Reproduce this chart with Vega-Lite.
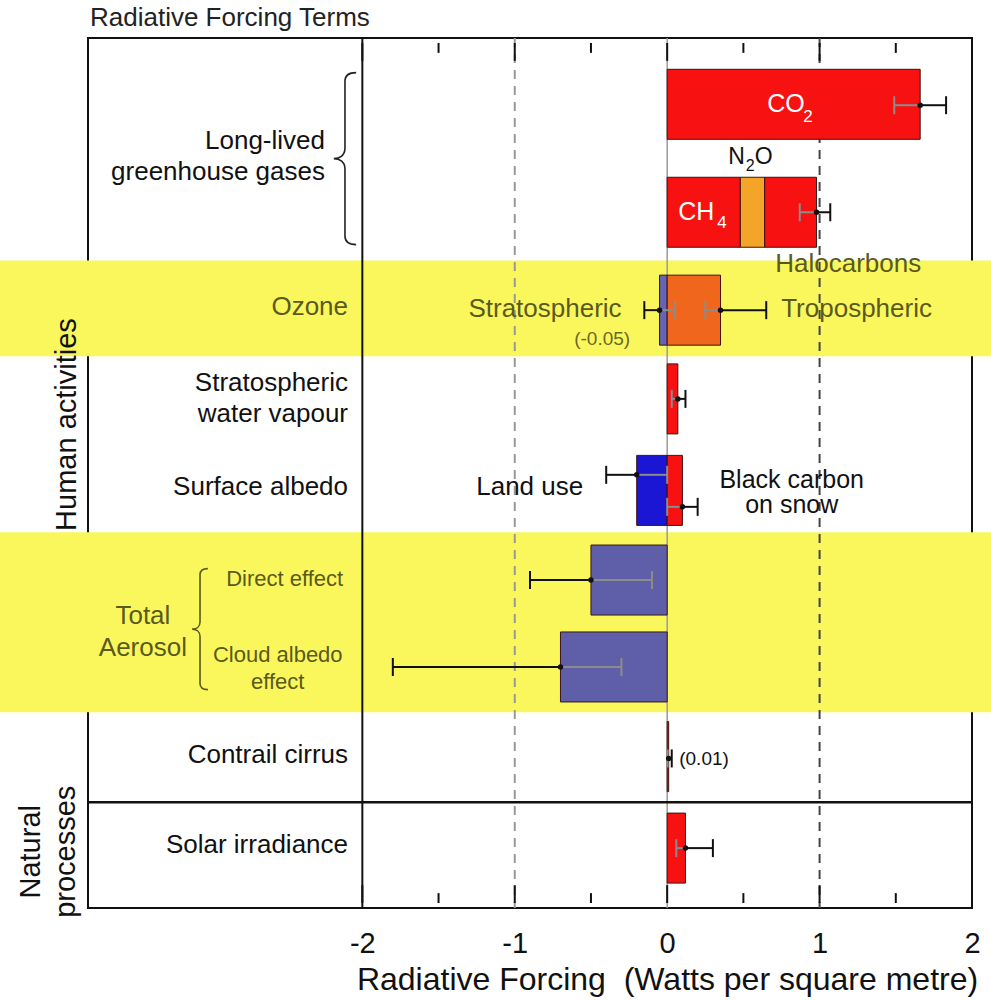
{
  "$schema": "https://vega.github.io/schema/vega-lite/v6.json",
  "width": 884,
  "height": 870,
  "autosize": {"type": "none"},
  "padding": {"left": 88, "top": 38, "right": 19, "bottom": 92},
  "background": "white",
  "config": {"font": "Liberation Sans", "view": {"stroke": "#111", "strokeWidth": 2}},
  "title": {"text": "Radiative Forcing Terms", "anchor": "start", "frame": "group", "fontSize": 26, "fontWeight": "normal", "font": "Liberation Sans", "color": "#222", "offset": -15, "baseline": "alphabetic", "dx": 2},
  "resolve": {"axis": {"x": "independent"}},
  "datasets": {
    "bands": [
      {"zone": "Ozone", "y0": 1.677, "y1": 2.725},
      {"zone": "Total Aerosol", "y0": 4.648, "y1": 6.615}
    ],
    "refs": [
      {"x": -2, "kind": "solid"},
      {"x": -1, "kind": "dash light"},
      {"x": 0, "kind": "zero"},
      {"x": 1, "kind": "dash dark"}
    ],
    "dividers": [{"y": 7.6}],
    "bars": [
      {"term": "CO2", "y": -0.03, "x0": 0, "x1": 1.66, "type": "warming"},
      {"term": "CH4", "y": 1.15, "x0": 0, "x1": 0.48, "type": "warming"},
      {"term": "N2O", "y": 1.15, "x0": 0.48, "x1": 0.64, "type": "N2O"},
      {"term": "Halocarbons", "y": 1.15, "x0": 0.64, "x1": 0.98, "type": "warming"},
      {"term": "Stratospheric ozone", "y": 2.22, "x0": -0.05, "x1": 0, "type": "ozone strat"},
      {"term": "Tropospheric ozone", "y": 2.22, "x0": 0, "x1": 0.35, "type": "ozone trop"},
      {"term": "Stratospheric water vapour", "y": 3.19, "x0": 0, "x1": 0.07, "type": "warming"},
      {"term": "Land use", "y": 4.19, "x0": -0.2, "x1": 0, "type": "albedo"},
      {"term": "Black carbon on snow", "y": 4.19, "x0": 0, "x1": 0.1, "type": "warming"},
      {"term": "Direct effect", "y": 5.17, "x0": -0.5, "x1": 0, "type": "aerosol"},
      {"term": "Cloud albedo effect", "y": 6.12, "x0": -0.7, "x1": 0, "type": "aerosol"},
      {"term": "Contrail cirrus", "y": 7.1, "x0": 0, "x1": 0.01, "type": "warming"},
      {"term": "Solar irradiance", "y": 8.1, "x0": 0, "x1": 0.12, "type": "warming"}
    ],
    "errs": [
      {"term": "CO2", "y": -0.02, "v": 1.66, "inner": 1.49, "outer": 1.83},
      {"term": "Long-lived gases", "y": 1.15, "v": 0.98, "inner": 0.87, "outer": 1.07},
      {"term": "Stratospheric ozone", "y": 2.22, "v": -0.05, "inner": 0.05, "outer": -0.15},
      {"term": "Tropospheric ozone", "y": 2.22, "v": 0.35, "inner": 0.25, "outer": 0.65},
      {"term": "Stratospheric water vapour", "y": 3.19, "v": 0.07, "inner": 0.03, "outer": 0.12},
      {"term": "Land use", "y": 4.02, "v": -0.2, "inner": 0.0, "outer": -0.4},
      {"term": "Black carbon on snow", "y": 4.37, "v": 0.1, "inner": 0.0, "outer": 0.2},
      {"term": "Direct effect", "y": 5.17, "v": -0.5, "inner": -0.1, "outer": -0.9},
      {"term": "Cloud albedo effect", "y": 6.12, "v": -0.7, "inner": -0.3, "outer": -1.8},
      {"term": "Contrail cirrus", "y": 7.12, "v": 0.01, "inner": 0.003, "outer": 0.03},
      {"term": "Solar irradiance", "y": 8.1, "v": 0.12, "inner": 0.06, "outer": 0.3}
    ],
    "ticks": [
      {"x": -2, "kind": "major"}, {"x": -1.5, "kind": "minor"}, {"x": -1, "kind": "major"}, {"x": -0.5, "kind": "minor"},
      {"x": 0, "kind": "major"}, {"x": 0.5, "kind": "minor"}, {"x": 1, "kind": "major"}, {"x": 1.5, "kind": "minor"}, {"x": 2, "kind": "major"}
    ],
    "braces": [
      {"group": "Long-lived greenhouse gases", "x": -2.114, "y": 0.564},
      {"group": "Total Aerosol", "x": -3.065, "y": 5.707}
    ],
    "notes": [
      {"text": "Long-lived\ngreenhouse gases", "x": -2.245, "y": 0.37, "kind": "label"},
      {"text": "Stratospheric\nwater vapour", "x": -2.094, "y": 3.013, "kind": "label"},
      {"text": "Surface albedo", "x": -2.094, "y": 4.15, "kind": "label"},
      {"text": "Contrail cirrus", "x": -2.094, "y": 7.08, "kind": "label"},
      {"text": "Solar irradiance", "x": -2.094, "y": 8.07, "kind": "label"},
      {"text": "Land use", "x": -0.551, "y": 4.15, "kind": "label"},
      {"text": "Ozone", "x": -2.094, "y": 2.19, "kind": "shaded right"},
      {"text": "Stratospheric", "x": -0.299, "y": 2.21, "kind": "shaded right"},
      {"text": "Tropospheric", "x": 0.748, "y": 2.21, "kind": "shaded left"},
      {"text": "Halocarbons", "x": 1.188, "y": 1.715, "kind": "shaded center"},
      {"text": "Total\nAerosol", "x": -3.44, "y": 5.56, "kind": "shaded center"},
      {"text": "Direct effect", "x": -2.51, "y": 5.156, "kind": "shaded small"},
      {"text": "Cloud albedo\neffect", "x": -2.555, "y": 5.988, "kind": "shaded small"},
      {"text": "(-0.05)", "x": -0.243, "y": 2.536, "kind": "shaded value"},
      {"text": "Black carbon\non snow", "x": 0.817, "y": 4.076, "kind": "center"},
      {"text": "(0.01)", "x": 0.079, "y": 7.13, "kind": "value"},
      {"text": "CO", "x": 0.656, "y": -0.035, "kind": "white"},
      {"text": "2", "x": 0.892, "y": 0.11, "kind": "white sub"},
      {"text": "CH", "x": 0.072, "y": 1.148, "kind": "white"},
      {"text": "4", "x": 0.329, "y": 1.27, "kind": "white sub"},
      {"text": "N", "x": 0.4, "y": 0.55, "kind": "formula"},
      {"text": "2", "x": 0.515, "y": 0.645, "kind": "formula sub"},
      {"text": "O", "x": 0.575, "y": 0.55, "kind": "formula"},
      {"text": "Human activities", "x": -3.938, "y": 3.47, "kind": "side"},
      {"text": "Natural\nprocesses", "x": -4.171, "y": 8.14, "kind": "side"}
    ]
  },
  "layer": [
    {
      "data": {"name": "bands"},
      "mark": {"type": "rect", "color": "#faf75c", "opacity": 1},
      "encoding": {
        "x": {"datum": -4.45, "type": "quantitative", "scale": {"domain": [-3.8, 2], "nice": false, "zero": false}, "axis": null},
        "x2": {"datum": 2.2},
        "y": {"field": "y0", "type": "quantitative", "scale": {"domain": [-0.7, 8.7], "reverse": true, "nice": false, "zero": false}, "axis": null},
        "y2": {"field": "y1"}
      }
    },
    {
      "data": {"name": "refs"},
      "transform": [{"filter": "datum.kind === 'solid'"}],
      "mark": {"type": "rule", "color": "#111", "strokeWidth": 2},
      "encoding": {"x": {"field": "x", "type": "quantitative", "scale": {"domain": [-3.8, 2], "nice": false, "zero": false}, "axis": null}}
    },
    {
      "data": {"name": "refs"},
      "transform": [{"filter": "datum.kind === 'zero'"}],
      "mark": {"type": "rule", "color": "#9a9a9a", "strokeWidth": 1.5},
      "encoding": {"x": {"field": "x", "type": "quantitative", "scale": {"domain": [-3.8, 2], "nice": false, "zero": false}, "axis": null}}
    },
    {
      "data": {"name": "refs"},
      "transform": [{"filter": "datum.kind === 'dash light'"}],
      "mark": {"type": "rule", "color": "#999999", "strokeWidth": 2, "strokeDash": [9, 7]},
      "encoding": {"x": {"field": "x", "type": "quantitative", "scale": {"domain": [-3.8, 2], "nice": false, "zero": false}, "axis": null}}
    },
    {
      "data": {"name": "refs"},
      "transform": [{"filter": "datum.kind === 'dash dark'"}],
      "mark": {"type": "rule", "color": "#444444", "strokeWidth": 2, "strokeDash": [9, 7]},
      "encoding": {"x": {"field": "x", "type": "quantitative", "scale": {"domain": [-3.8, 2], "nice": false, "zero": false}, "axis": null}}
    },
    {
      "data": {"name": "dividers"},
      "mark": {"type": "rule", "color": "#111", "strokeWidth": 2.5},
      "encoding": {"y": {"field": "y", "type": "quantitative", "scale": {"domain": [-0.7, 8.7], "reverse": true, "nice": false, "zero": false}, "axis": null}}
    },
    {
      "data": {"name": "bars"},
      "mark": {"type": "bar", "orient": "horizontal", "height": 70, "stroke": "#3a1414", "strokeWidth": 1, "opacity": 1},
      "encoding": {
        "x": {"field": "x0", "type": "quantitative", "scale": {"domain": [-3.8, 2], "nice": false, "zero": false},
          "axis": {"orient": "bottom", "values": [-2, -1, 0, 1, 2], "ticks": false, "domain": false, "grid": false, "labelFontSize": 29, "labelColor": "#111", "labelBaseline": "alphabetic", "labelPadding": 44, "labelFont": "Liberation Sans", "labelFlush": false, "labelOverlap": false, "labelBound": false,
            "labelExpr": "datum.value < 0 ? '-' + abs(datum.value) : '' + datum.value",
            "title": "Radiative Forcing \u00a0(Watts per square metre)", "titleFontSize": 32, "titleFontWeight": "normal", "titleColor": "#111", "titleFont": "Liberation Sans", "titleX": 579, "titleY": 81, "titleAlign": "center", "titleBaseline": "alphabetic"}},
        "x2": {"field": "x1"},
        "y": {"field": "y", "type": "quantitative", "scale": {"domain": [-0.7, 8.7], "reverse": true, "nice": false, "zero": false}, "axis": null},
        "color": {"field": "type", "type": "nominal", "legend": null,
          "scale": {"domain": ["warming", "N2O", "ozone strat", "ozone trop", "albedo", "aerosol"], "range": ["#f71111", "#f5a42a", "#6664b4", "#f0661c", "#1b15d4", "#5f5ea8"]}}
      }
    },
    {
      "data": {"name": "errs"},
      "mark": {"type": "rule", "color": "#8c8c8c", "strokeWidth": 2},
      "encoding": {
        "x": {"field": "inner", "type": "quantitative", "scale": {"domain": [-3.8, 2], "nice": false, "zero": false}, "axis": null},
        "x2": {"field": "v"},
        "y": {"field": "y", "type": "quantitative", "scale": {"domain": [-0.7, 8.7], "reverse": true, "nice": false, "zero": false}, "axis": null}
      }
    },
    {
      "data": {"name": "errs"},
      "mark": {"type": "rule", "color": "#111", "strokeWidth": 2},
      "encoding": {
        "x": {"field": "v", "type": "quantitative", "scale": {"domain": [-3.8, 2], "nice": false, "zero": false}, "axis": null},
        "x2": {"field": "outer"},
        "y": {"field": "y", "type": "quantitative", "scale": {"domain": [-0.7, 8.7], "reverse": true, "nice": false, "zero": false}, "axis": null}
      }
    },
    {
      "data": {"name": "errs"},
      "mark": {"type": "tick", "orient": "vertical", "size": 18, "thickness": 2, "color": "#8c8c8c", "opacity": 1},
      "encoding": {
        "x": {"field": "inner", "type": "quantitative", "scale": {"domain": [-3.8, 2], "nice": false, "zero": false}, "axis": null},
        "y": {"field": "y", "type": "quantitative", "scale": {"domain": [-0.7, 8.7], "reverse": true, "nice": false, "zero": false}, "axis": null}
      }
    },
    {
      "data": {"name": "errs"},
      "mark": {"type": "tick", "orient": "vertical", "size": 18, "thickness": 2, "color": "#111", "opacity": 1},
      "encoding": {
        "x": {"field": "outer", "type": "quantitative", "scale": {"domain": [-3.8, 2], "nice": false, "zero": false}, "axis": null},
        "y": {"field": "y", "type": "quantitative", "scale": {"domain": [-0.7, 8.7], "reverse": true, "nice": false, "zero": false}, "axis": null}
      }
    },
    {
      "data": {"name": "errs"},
      "mark": {"type": "circle", "size": 30, "color": "#111", "opacity": 1},
      "encoding": {
        "x": {"field": "v", "type": "quantitative", "scale": {"domain": [-3.8, 2], "nice": false, "zero": false}, "axis": null},
        "y": {"field": "y", "type": "quantitative", "scale": {"domain": [-0.7, 8.7], "reverse": true, "nice": false, "zero": false}, "axis": null}
      }
    },
    {
      "data": {"name": "ticks"},
      "transform": [{"filter": "datum.kind === 'major'"}],
      "mark": {"type": "rule", "color": "#111", "strokeWidth": 2},
      "encoding": {
        "x": {"field": "x", "type": "quantitative", "scale": {"domain": [-3.8, 2], "nice": false, "zero": false}, "axis": null},
        "y": {"datum": -0.7, "type": "quantitative", "scale": {"domain": [-0.7, 8.7], "reverse": true, "nice": false, "zero": false}, "axis": null},
        "y2": {"datum": -0.505}
      }
    },
    {
      "data": {"name": "ticks"},
      "transform": [{"filter": "datum.kind === 'major'"}],
      "mark": {"type": "rule", "color": "#111", "strokeWidth": 2},
      "encoding": {
        "x": {"field": "x", "type": "quantitative", "scale": {"domain": [-3.8, 2], "nice": false, "zero": false}, "axis": null},
        "y": {"datum": 8.7, "type": "quantitative", "scale": {"domain": [-0.7, 8.7], "reverse": true, "nice": false, "zero": false}, "axis": null},
        "y2": {"datum": 8.505}
      }
    },
    {
      "data": {"name": "ticks"},
      "transform": [{"filter": "datum.kind === 'minor'"}],
      "mark": {"type": "rule", "color": "#111", "strokeWidth": 2},
      "encoding": {
        "x": {"field": "x", "type": "quantitative", "scale": {"domain": [-3.8, 2], "nice": false, "zero": false}, "axis": null},
        "y": {"datum": -0.7, "type": "quantitative", "scale": {"domain": [-0.7, 8.7], "reverse": true, "nice": false, "zero": false}, "axis": null},
        "y2": {"datum": -0.592}
      }
    },
    {
      "data": {"name": "ticks"},
      "transform": [{"filter": "datum.kind === 'minor'"}],
      "mark": {"type": "rule", "color": "#111", "strokeWidth": 2},
      "encoding": {
        "x": {"field": "x", "type": "quantitative", "scale": {"domain": [-3.8, 2], "nice": false, "zero": false}, "axis": null},
        "y": {"datum": 8.7, "type": "quantitative", "scale": {"domain": [-0.7, 8.7], "reverse": true, "nice": false, "zero": false}, "axis": null},
        "y2": {"datum": 8.592}
      }
    },
    {
      "data": {"name": "braces"},
      "transform": [{"filter": "datum.group === 'Long-lived greenhouse gases'"}],
      "mark": {"type": "point", "shape": "M0.13,-1 C0.04,-1 0,-0.97 0,-0.9 L0,-0.12 C0,-0.04 -0.06,0 -0.13,0 C-0.06,0 0,0.04 0,0.12 L0,0.9 C0,0.97 0.04,1 0.13,1", "size": 29584, "filled": false, "stroke": "#222", "strokeWidth": 1.6, "opacity": 1},
      "encoding": {
        "x": {"field": "x", "type": "quantitative", "scale": {"domain": [-3.8, 2], "nice": false, "zero": false}, "axis": null},
        "y": {"field": "y", "type": "quantitative", "scale": {"domain": [-0.7, 8.7], "reverse": true, "nice": false, "zero": false}, "axis": null}
      }
    },
    {
      "data": {"name": "braces"},
      "transform": [{"filter": "datum.group === 'Total Aerosol'"}],
      "mark": {"type": "point", "shape": "M0.13,-1 C0.04,-1 0,-0.97 0,-0.9 L0,-0.12 C0,-0.04 -0.06,0 -0.13,0 C-0.06,0 0,0.04 0,0.12 L0,0.9 C0,0.97 0.04,1 0.13,1", "size": 14641, "filled": false, "stroke": "#5a5a1e", "strokeWidth": 1.6, "opacity": 1},
      "encoding": {
        "x": {"field": "x", "type": "quantitative", "scale": {"domain": [-3.8, 2], "nice": false, "zero": false}, "axis": null},
        "y": {"field": "y", "type": "quantitative", "scale": {"domain": [-0.7, 8.7], "reverse": true, "nice": false, "zero": false}, "axis": null}
      }
    },
    {
      "data": {"name": "notes"},
      "transform": [{"filter": "datum.kind === 'label'"}],
      "mark": {"type": "text", "align": "right", "baseline": "middle", "fontSize": 26, "lineHeight": 31, "lineBreak": "\n", "color": "#111"},
      "encoding": {
        "x": {"field": "x", "type": "quantitative", "scale": {"domain": [-3.8, 2], "nice": false, "zero": false}, "axis": null},
        "y": {"field": "y", "type": "quantitative", "scale": {"domain": [-0.7, 8.7], "reverse": true, "nice": false, "zero": false}, "axis": null},
        "text": {"field": "text"}
      }
    },
    {
      "data": {"name": "notes"},
      "transform": [{"filter": "datum.kind === 'shaded right'"}],
      "mark": {"type": "text", "align": "right", "baseline": "middle", "fontSize": 26, "color": "#5a5a1e"},
      "encoding": {
        "x": {"field": "x", "type": "quantitative", "scale": {"domain": [-3.8, 2], "nice": false, "zero": false}, "axis": null},
        "y": {"field": "y", "type": "quantitative", "scale": {"domain": [-0.7, 8.7], "reverse": true, "nice": false, "zero": false}, "axis": null},
        "text": {"field": "text"}
      }
    },
    {
      "data": {"name": "notes"},
      "transform": [{"filter": "datum.kind === 'shaded left'"}],
      "mark": {"type": "text", "align": "left", "baseline": "middle", "fontSize": 26, "color": "#5a5a1e"},
      "encoding": {
        "x": {"field": "x", "type": "quantitative", "scale": {"domain": [-3.8, 2], "nice": false, "zero": false}, "axis": null},
        "y": {"field": "y", "type": "quantitative", "scale": {"domain": [-0.7, 8.7], "reverse": true, "nice": false, "zero": false}, "axis": null},
        "text": {"field": "text"}
      }
    },
    {
      "data": {"name": "notes"},
      "transform": [{"filter": "datum.kind === 'shaded center'"}],
      "mark": {"type": "text", "align": "center", "baseline": "middle", "fontSize": 26, "lineHeight": 32, "lineBreak": "\n", "color": "#5a5a1e"},
      "encoding": {
        "x": {"field": "x", "type": "quantitative", "scale": {"domain": [-3.8, 2], "nice": false, "zero": false}, "axis": null},
        "y": {"field": "y", "type": "quantitative", "scale": {"domain": [-0.7, 8.7], "reverse": true, "nice": false, "zero": false}, "axis": null},
        "text": {"field": "text"}
      }
    },
    {
      "data": {"name": "notes"},
      "transform": [{"filter": "datum.kind === 'shaded small'"}],
      "mark": {"type": "text", "align": "center", "baseline": "middle", "fontSize": 22, "lineHeight": 27, "lineBreak": "\n", "color": "#5a5a1e"},
      "encoding": {
        "x": {"field": "x", "type": "quantitative", "scale": {"domain": [-3.8, 2], "nice": false, "zero": false}, "axis": null},
        "y": {"field": "y", "type": "quantitative", "scale": {"domain": [-0.7, 8.7], "reverse": true, "nice": false, "zero": false}, "axis": null},
        "text": {"field": "text"}
      }
    },
    {
      "data": {"name": "notes"},
      "transform": [{"filter": "datum.kind === 'shaded value'"}],
      "mark": {"type": "text", "align": "right", "baseline": "middle", "fontSize": 19, "color": "#6a6a26"},
      "encoding": {
        "x": {"field": "x", "type": "quantitative", "scale": {"domain": [-3.8, 2], "nice": false, "zero": false}, "axis": null},
        "y": {"field": "y", "type": "quantitative", "scale": {"domain": [-0.7, 8.7], "reverse": true, "nice": false, "zero": false}, "axis": null},
        "text": {"field": "text"}
      }
    },
    {
      "data": {"name": "notes"},
      "transform": [{"filter": "datum.kind === 'center'"}],
      "mark": {"type": "text", "align": "center", "baseline": "middle", "fontSize": 25, "lineHeight": 25.5, "lineBreak": "\n", "color": "#111"},
      "encoding": {
        "x": {"field": "x", "type": "quantitative", "scale": {"domain": [-3.8, 2], "nice": false, "zero": false}, "axis": null},
        "y": {"field": "y", "type": "quantitative", "scale": {"domain": [-0.7, 8.7], "reverse": true, "nice": false, "zero": false}, "axis": null},
        "text": {"field": "text"}
      }
    },
    {
      "data": {"name": "notes"},
      "transform": [{"filter": "datum.kind === 'value'"}],
      "mark": {"type": "text", "align": "left", "baseline": "middle", "fontSize": 19, "color": "#111"},
      "encoding": {
        "x": {"field": "x", "type": "quantitative", "scale": {"domain": [-3.8, 2], "nice": false, "zero": false}, "axis": null},
        "y": {"field": "y", "type": "quantitative", "scale": {"domain": [-0.7, 8.7], "reverse": true, "nice": false, "zero": false}, "axis": null},
        "text": {"field": "text"}
      }
    },
    {
      "data": {"name": "notes"},
      "transform": [{"filter": "datum.kind === 'white'"}],
      "mark": {"type": "text", "align": "left", "baseline": "middle", "fontSize": 25, "color": "white"},
      "encoding": {
        "x": {"field": "x", "type": "quantitative", "scale": {"domain": [-3.8, 2], "nice": false, "zero": false}, "axis": null},
        "y": {"field": "y", "type": "quantitative", "scale": {"domain": [-0.7, 8.7], "reverse": true, "nice": false, "zero": false}, "axis": null},
        "text": {"field": "text"}
      }
    },
    {
      "data": {"name": "notes"},
      "transform": [{"filter": "datum.kind === 'white sub'"}],
      "mark": {"type": "text", "align": "left", "baseline": "middle", "fontSize": 17, "color": "white"},
      "encoding": {
        "x": {"field": "x", "type": "quantitative", "scale": {"domain": [-3.8, 2], "nice": false, "zero": false}, "axis": null},
        "y": {"field": "y", "type": "quantitative", "scale": {"domain": [-0.7, 8.7], "reverse": true, "nice": false, "zero": false}, "axis": null},
        "text": {"field": "text"}
      }
    },
    {
      "data": {"name": "notes"},
      "transform": [{"filter": "datum.kind === 'formula'"}],
      "mark": {"type": "text", "align": "left", "baseline": "middle", "fontSize": 23, "color": "#111"},
      "encoding": {
        "x": {"field": "x", "type": "quantitative", "scale": {"domain": [-3.8, 2], "nice": false, "zero": false}, "axis": null},
        "y": {"field": "y", "type": "quantitative", "scale": {"domain": [-0.7, 8.7], "reverse": true, "nice": false, "zero": false}, "axis": null},
        "text": {"field": "text"}
      }
    },
    {
      "data": {"name": "notes"},
      "transform": [{"filter": "datum.kind === 'formula sub'"}],
      "mark": {"type": "text", "align": "left", "baseline": "middle", "fontSize": 16, "color": "#111"},
      "encoding": {
        "x": {"field": "x", "type": "quantitative", "scale": {"domain": [-3.8, 2], "nice": false, "zero": false}, "axis": null},
        "y": {"field": "y", "type": "quantitative", "scale": {"domain": [-0.7, 8.7], "reverse": true, "nice": false, "zero": false}, "axis": null},
        "text": {"field": "text"}
      }
    },
    {
      "data": {"name": "notes"},
      "transform": [{"filter": "datum.kind === 'side'"}],
      "mark": {"type": "text", "align": "center", "baseline": "middle", "angle": 270, "fontSize": 29, "lineHeight": 35, "lineBreak": "\n", "color": "#111"},
      "encoding": {
        "x": {"field": "x", "type": "quantitative", "scale": {"domain": [-3.8, 2], "nice": false, "zero": false}, "axis": null},
        "y": {"field": "y", "type": "quantitative", "scale": {"domain": [-0.7, 8.7], "reverse": true, "nice": false, "zero": false}, "axis": null},
        "text": {"field": "text"}
      }
    }
  ]
}
